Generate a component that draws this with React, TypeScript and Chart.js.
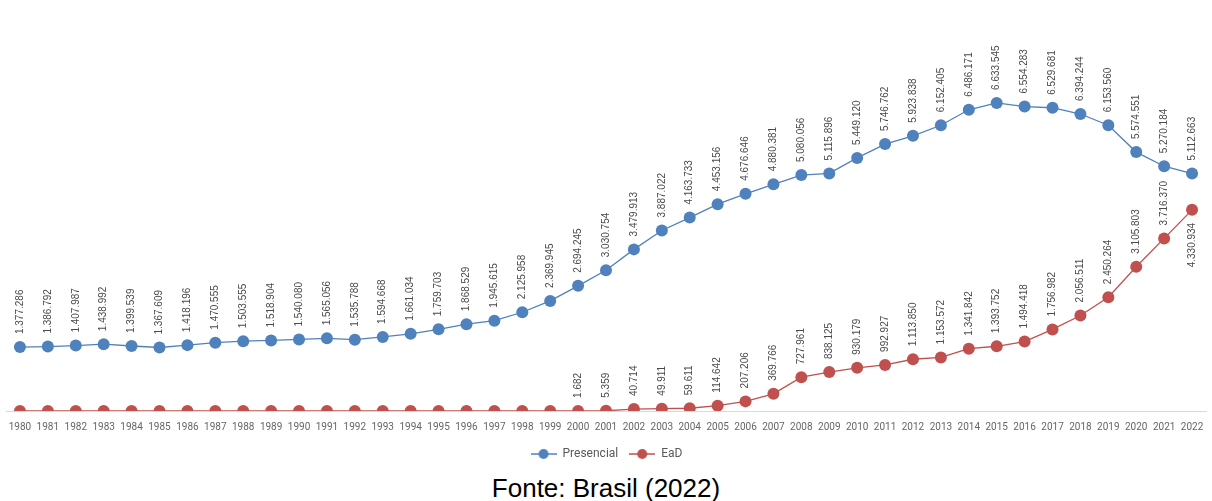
import React, { useEffect, useRef } from "react";
import { Chart, registerables } from "chart.js";

Chart.register(...registerables);

const years: string[] = [
  "1980","1981","1982","1983","1984","1985","1986","1987","1988","1989",
  "1990","1991","1992","1993","1994","1995","1996","1997","1998","1999",
  "2000","2001","2002","2003","2004","2005","2006","2007","2008","2009",
  "2010","2011","2012","2013","2014","2015","2016","2017","2018","2019",
  "2020","2021","2022",
];

const presencial: number[] = [
  1377286, 1386792, 1407987, 1438992, 1399539, 1367609, 1418196, 1470555, 1503555, 1518904,
  1540080, 1565056, 1535788, 1594668, 1661034, 1759703, 1868529, 1945615, 2125958, 2369945,
  2694245, 3030754, 3479913, 3887022, 4163733, 4453156, 4676646, 4880381, 5080056, 5115896,
  5449120, 5746762, 5923838, 6152405, 6486171, 6633545, 6554283, 6529681, 6394244, 6153560,
  5574551, 5270184, 5112663,
];

const ead: number[] = [
  0, 0, 0, 0, 0, 0, 0, 0, 0, 0,
  0, 0, 0, 0, 0, 0, 0, 0, 0, 0,
  1682, 5359, 40714, 49911, 59611, 114642, 207206, 369766, 727961, 838125,
  930179, 992927, 1113850, 1153572, 1341842, 1393752, 1494418, 1756982, 2056511, 2450264,
  3105803, 3716370, 4330934,
];

const seriesNames: string[] = ["Presencial", "EaD"];
const caption = "Fonte: Brasil (2022)";

const BLUE = "#4F81BD";
const RED = "#C0504D";

function fmt(v: number): string {
  return String(v).replace(/\B(?=(\d{3})+(?!\d))/g, ".");
}

function legendIcon(color: string): HTMLCanvasElement {
  const c = document.createElement("canvas");
  c.width = 26;
  c.height = 12;
  const ctx = c.getContext("2d")!;
  ctx.strokeStyle = color;
  ctx.lineWidth = 1.5;
  ctx.beginPath();
  ctx.moveTo(0, 6);
  ctx.lineTo(26, 6);
  ctx.stroke();
  ctx.fillStyle = color;
  ctx.beginPath();
  ctx.arc(13, 6, 5, 0, Math.PI * 2);
  ctx.fill();
  return c;
}

const labelPlugin = {
  id: "vlabels",
  afterDatasetsDraw(chart: any) {
    const ctx = chart.ctx;
    chart.data.datasets.forEach((ds: any, di: number) => {
      const meta = chart.getDatasetMeta(di);
      meta.data.forEach((pt: any, i: number) => {
        const v = ds.data[i];
        if (!v) return;
        const below = di === 1 && i === ds.data.length - 1;
        ctx.save();
        ctx.font = "10px 'Liberation Sans', Arial, sans-serif";
        ctx.fillStyle = "#4a4a4a";
        ctx.textBaseline = "middle";
        if (below) {
          ctx.translate(pt.x, pt.y + 13);
          ctx.rotate(-Math.PI / 2);
          ctx.textAlign = "right";
        } else {
          ctx.translate(pt.x, pt.y - 13);
          ctx.rotate(-Math.PI / 2);
          ctx.textAlign = "left";
        }
        ctx.fillText(fmt(v), 0, 0);
        ctx.restore();
      });
    });
  },
};

export default function App() {
  const ref = useRef<HTMLCanvasElement>(null);

  useEffect(() => {
    if (!ref.current) return;
    const chart = new Chart(ref.current, {
      type: "line",
      data: {
        labels: years,
        datasets: [
          {
            label: seriesNames[0],
            data: presencial,
            borderColor: BLUE,
            backgroundColor: BLUE,
            borderWidth: 1.3,
            pointRadius: 6,
            pointBackgroundColor: BLUE,
            pointBorderWidth: 0,
            pointStyle: "circle",
          },
          {
            label: seriesNames[1],
            data: ead,
            borderColor: RED,
            backgroundColor: RED,
            borderWidth: 1.3,
            pointRadius: 6,
            pointBackgroundColor: RED,
            pointBorderWidth: 0,
            pointStyle: "circle",
          },
        ],
      },
      options: {
        responsive: false,
        animation: false,
        layout: { padding: { left: 3, right: 2, top: 0, bottom: 0 } },
        scales: {
          x: {
            offset: true,
            grid: { display: false },
            border: { display: true, color: "#D9D9D9", width: 1 },
            ticks: {
              color: "#666666",
              font: { family: "Roboto, sans-serif", size: 10 },
              maxRotation: 0,
              autoSkip: false,
              padding: 2,
            },
            afterFit: (scale: any) => {
              scale.height += 2;
            },
          },
          y: {
            display: false,
            min: 0,
            max: 8720000,
          },
        },
        plugins: {
          legend: {
            position: "bottom",
            labels: {
              usePointStyle: true,
              pointStyleWidth: 26,
              color: "#595959",
              font: { family: "Roboto, sans-serif", size: 12 },
              padding: 11,
              generateLabels: (c: any) =>
                c.data.datasets.map((ds: any, i: number) => ({
                  text: ds.label,
                  pointStyle: legendIcon(ds.borderColor),
                  fillStyle: ds.borderColor,
                  strokeStyle: ds.borderColor,
                  lineWidth: 0,
                  fontColor: "#595959",
                  datasetIndex: i,
                  hidden: false,
                })),
            },
          },
          tooltip: { enabled: false },
        },
      },
      plugins: [labelPlugin],
    });
    return () => chart.destroy();
  }, []);

  return (
    <div style={{ position: "absolute", left: 0, top: 0, width: 1212, height: 501, background: "#fff" }}>
      <canvas ref={ref} width={1212} height={470} style={{ display: "block" }} />
      <div
        style={{
          position: "absolute",
          left: 0,
          top: 473,
          width: 1212,
          textAlign: "center",
          fontFamily: "'Liberation Sans', Arial, sans-serif",
          fontSize: 26,
          lineHeight: "30px",
          color: "#000",
        }}
      >
        {caption}
      </div>
    </div>
  );
}
